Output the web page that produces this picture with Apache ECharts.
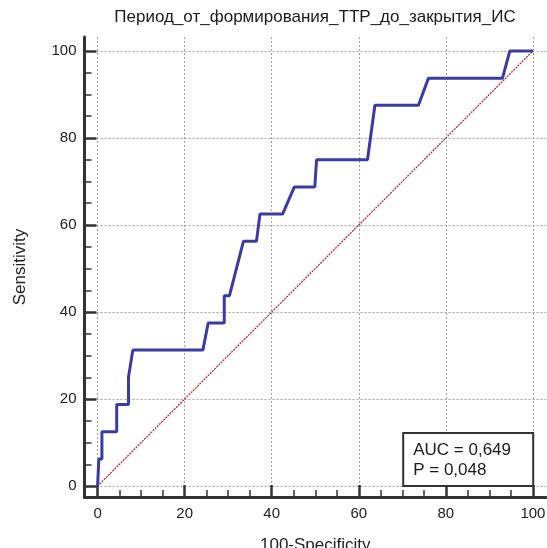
<!DOCTYPE html>
<html>
  <head>
    <title>ROC</title>
    <meta charset="utf-8">
    <script type="text/javascript" src="https://cdn.jsdelivr.net/npm/echarts@6/dist/echarts.min.js"></script>
    <style>
      html, body { margin: 0; padding: 0; background: #fff; }
    </style>
  </head>
  <body>
    <div id="main" style="width: 547px;height:548px;"></div>

    <script type="text/javascript">
    // ROC curve points (100-Specificity, Sensitivity)
    var fpr  = [0, 0.3, 1.0, 1.0, 4.4, 4.4, 7.1, 7.1, 8.1, 24.2, 25.4, 29.1, 29.1, 30.3, 33.5, 36.5, 37.3, 42.5, 45.2, 49.9, 50.3, 62.0, 63.7, 73.7, 76.0, 93.0, 94.7, 100];
    var sens = [0, 6.25, 6.25, 12.5, 12.5, 18.75, 18.75, 25, 31.25, 31.25, 37.5, 37.5, 43.75, 43.75, 56.25, 56.25, 62.5, 62.5, 68.75, 68.75, 75, 75, 87.5, 87.5, 93.75, 93.75, 100, 100];
    // reference diagonal
    var diagX = [0, 100];
    var diagY = [0, 100];
    // ticks
    var majorTicks = [0, 20, 40, 60, 80, 100];
    var minorTicks = [5, 10, 15, 25, 30, 35, 45, 50, 55, 65, 70, 75, 85, 90, 95];
    var titleText = 'Период_от_формирования_ТТР_до_закрытия_ИС';
    var statsText = 'AUC = 0,649\nP = 0,048';

    var font = "'Liberation Sans', Arial, sans-serif";
    var dom = document.getElementById("main");
    var myChart = echarts.init(dom, null, {renderer: 'canvas'});

    function zip(a, b) {
      var out = [];
      for (var i = 0; i < a.length; i++) out.push([a[i], b[i]]);
      return out;
    }

    function majorAxis(isX) {
      return {
        type: 'value',
        min: isX ? -3 : -2.5,
        max: isX ? 103 : 103.2,
        position: isX ? 'bottom' : 'left',
        name: isX ? '100-Specificity' : 'Sensitivity',
        nameLocation: 'middle',
        nameGap: isX ? 40 : 56,
        nameTextStyle: {fontFamily: font, fontSize: 17, color: '#222'},
        axisLine: {show: true, onZero: false, lineStyle: {color: '#333', width: 3}},
        axisTick: {show: true, inside: true, length: 12, customValues: majorTicks,
                   lineStyle: {color: '#333', width: 2.5}},
        axisLabel: {show: true, customValues: majorTicks, margin: isX ? 9 : 8,
                    fontFamily: font, fontSize: 15, color: '#222'},
        splitLine: {show: true, lineStyle: {color: '#a0a0a0', width: 1, type: [2, 2]}}
      };
    }

    function minorAxis(isX) {
      return {
        type: 'value',
        min: isX ? -3 : -2.5,
        max: isX ? 103 : 103.2,
        position: isX ? 'bottom' : 'left',
        axisLine: {show: false, onZero: false},
        axisTick: {show: true, inside: true, length: 7, customValues: minorTicks,
                   lineStyle: {color: '#333', width: 1.5}},
        axisLabel: {show: false, customValues: []},
        splitLine: {show: false}
      };
    }

    var option = {
      backgroundColor: '#fff',
      animation: false,
      title: [
        {
          text: titleText,
          left: 315, top: 9, textAlign: 'center', padding: 0,
          textStyle: {fontFamily: font, fontSize: 17, fontWeight: 'normal', color: '#1a1a1a'}
        },
        {
          text: statsText,
          right: 14, bottom: 62,
          padding: [7, 22, 6, 10],
          borderColor: '#333', borderWidth: 2, backgroundColor: '#fff',
          textStyle: {fontFamily: font, fontSize: 17, fontWeight: 'normal', color: '#1a1a1a', lineHeight: 20}
        }
      ],
      grid: {left: 84.5, right: 1, top: 37, bottom: 51, containLabel: false, outerBoundsMode: 'none'},
      xAxis: [majorAxis(true), minorAxis(true)],
      yAxis: [majorAxis(false), minorAxis(false)],
      series: [
        {
          type: 'line',
          data: zip(diagX, diagY),
          showSymbol: false,
          silent: true,
          lineStyle: {color: '#b83a3a', width: 1.4, type: [2, 1]},
          z: 2
        },
        {
          type: 'line',
          data: zip(fpr, sens),
          showSymbol: false,
          lineStyle: {color: '#3b3ba4', width: 3},
          z: 3
        }
      ]
    };

    myChart.setOption(option, true);
    </script>
  </body>
</html>
